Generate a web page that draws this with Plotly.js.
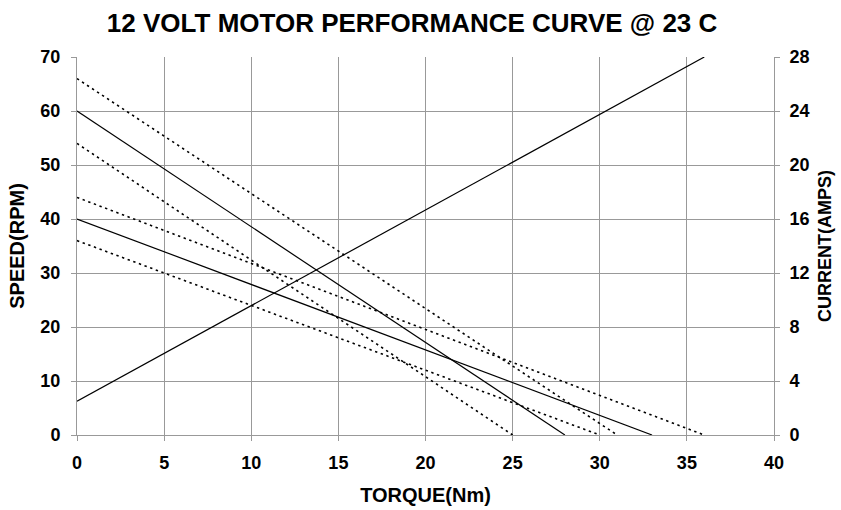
<!DOCTYPE html>
<html>
<head>
<meta charset="utf-8">
<script src="https://cdn.plot.ly/plotly-3.0.1.min.js"></script>
<style>html,body{margin:0;padding:0;background:#fff;}#chart{width:841px;height:510px;}</style>
</head>
<body>
<div id="chart"></div>
<script>
// Speed curves (RPM) vs torque (Nm): endpoints
const solidA_torque = [0, 28];
const solidA_speed  = [60, 0];
const solidB_torque = [0, 33];
const solidB_speed  = [40, 0];
const dotA_torque = [0, 31];
const dotA_speed  = [66, 0];
const dotB_torque = [0, 25];
const dotB_speed  = [54, 0];
const dotC_torque = [0, 36];
const dotC_speed  = [44, 0];
const dotD_torque = [0, 30];
const dotD_speed  = [36, 0];
// Current (AMPS) vs torque
const current_torque = [0, 36];
const current_amps   = [2.5, 28];

const xTicks = [0, 5, 10, 15, 20, 25, 30, 35, 40];
const yTicks = [0, 10, 20, 30, 40, 50, 60, 70];
const y2Ticks = [0, 4, 8, 12, 16, 20, 24, 28];

const FONT = 'Liberation Sans, Arial, sans-serif';
const solidLine = {color: '#000', width: 1.2};
const dotLine = {color: '#000', width: 1.6, dash: '2.4px,3.6px'};

function tr(x, y, line, axis) {
  return {x: x, y: y, type: 'scatter', mode: 'lines', line: line,
          yaxis: axis || 'y', hoverinfo: 'skip', showlegend: false};
}

const data = [
  tr(dotA_torque, dotA_speed, dotLine),
  tr(dotB_torque, dotB_speed, dotLine),
  tr(dotC_torque, dotC_speed, dotLine),
  tr(dotD_torque, dotD_speed, dotLine),
  tr(solidA_torque, solidA_speed, solidLine),
  tr(solidB_torque, solidB_speed, solidLine),
  tr(current_torque, current_amps, solidLine, 'y2')
];

const tickFont = {family: FONT, size: 18, color: '#000', weight: 'bold'};
const titleFont = {family: FONT, size: 20, color: '#000', weight: 'bold'};
const grid = '#999999';

const layout = {
  width: 841, height: 510,
  margin: {l: 77, r: 67, t: 57, b: 75},
  paper_bgcolor: '#fff', plot_bgcolor: '#fff',
  title: {text: '12 VOLT MOTOR PERFORMANCE CURVE @ 23 C',
          font: {family: FONT, size: 26, color: '#000', weight: 'bold'},
          x: 0.49, xref: 'container', y: 0.955, yref: 'container', yanchor: 'middle'},
  xaxis: {range: [0, 40], tickvals: xTicks, ticktext: xTicks.map(String),
          showgrid: true, gridcolor: grid, gridwidth: 1, zeroline: false,
          showline: true, linecolor: grid, linewidth: 1,
          ticks: 'outside', ticklen: 5, tickcolor: grid,
          tickfont: tickFont, ticklabelstandoff: 6,
          title: {text: 'TORQUE(Nm)', font: titleFont, standoff: 16}},
  yaxis: {range: [0, 70], tickvals: yTicks, ticktext: yTicks.map(String),
          showgrid: true, gridcolor: grid, gridwidth: 1, zeroline: false,
          showline: true, linecolor: grid, linewidth: 1,
          ticks: 'outside', ticklen: 5, tickcolor: grid,
          tickfont: tickFont, ticklabelstandoff: 7,
          title: {text: 'SPEED(RPM)', font: titleFont, standoff: 10}},
  yaxis2: {range: [0, 28], tickvals: y2Ticks, ticktext: y2Ticks.map(String),
           overlaying: 'y', side: 'right', showgrid: false, zeroline: false,
           showline: true, linecolor: grid, linewidth: 1,
           ticks: 'outside', ticklen: 5, tickcolor: grid,
           tickfont: tickFont, ticklabelstandoff: 6,
           title: {text: 'CURRENT(AMPS)', font: {family: FONT, size: 18, color: '#000', weight: 'bold'}, standoff: 9}}
};

Plotly.newPlot('chart', data, layout, {displayModeBar: false, staticPlot: true});
</script>
</body>
</html>
